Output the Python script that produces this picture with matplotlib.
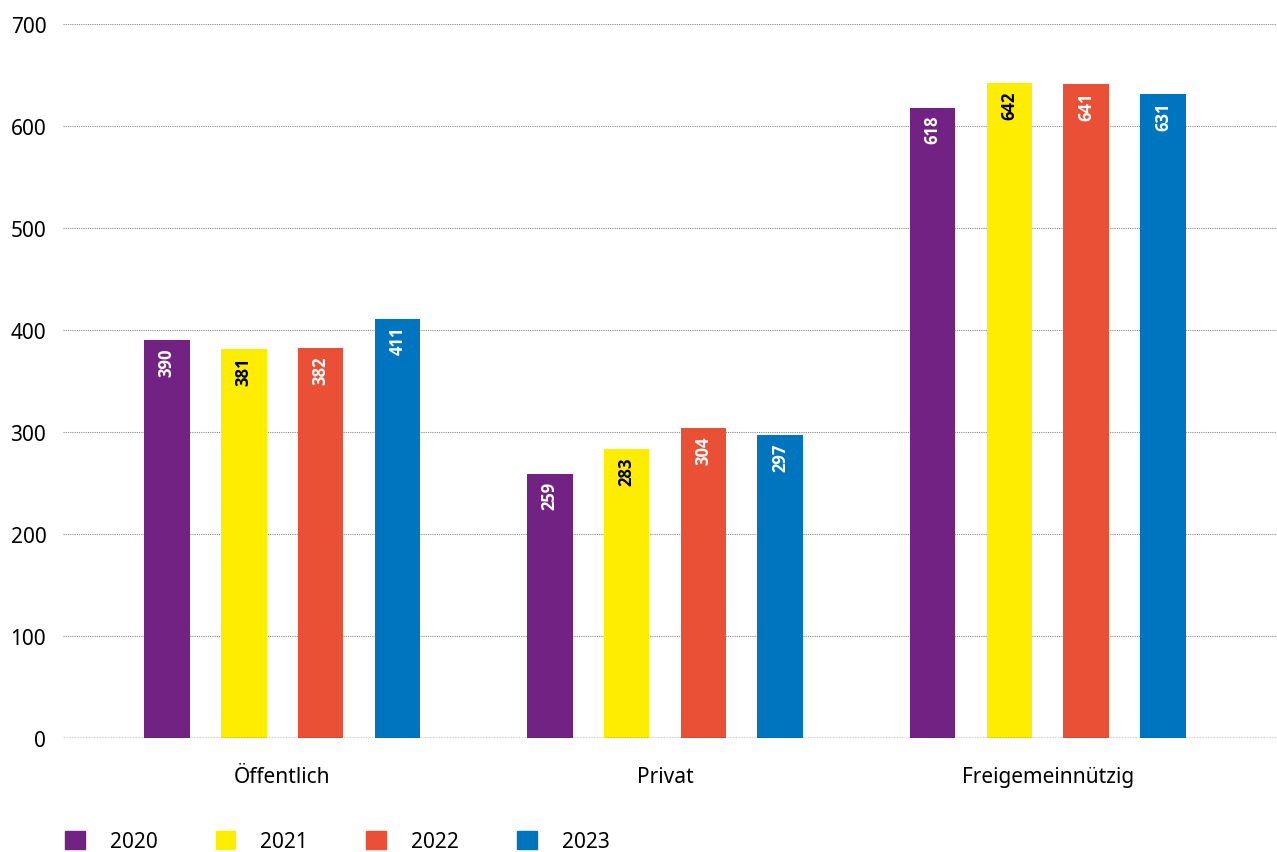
import numpy as np
import matplotlib.pyplot as plt
from matplotlib.patches import Patch

plt.rcParams['font.family'] = ['Noto Sans', 'DejaVu Sans']

kategorien = ["Öffentlich", "Privat", "Freigemeinnützig"]
jahre = ["2020", "2021", "2022", "2023"]
werte_2020 = [390, 259, 618]
werte_2021 = [381, 283, 642]
werte_2022 = [382, 304, 641]
werte_2023 = [411, 297, 631]
farben = ["#722282", "#FFED00", "#E95036", "#0075BF"]
textfarben = ["white", "black", "white", "white"]

serien = [werte_2020, werte_2021, werte_2022, werte_2023]

fig = plt.figure(figsize=(12.77, 8.53), dpi=100)
ax = fig.add_axes([0.0493, 0.1337, 0.9507, 0.837])

x = np.arange(len(kategorien))
breite = 0.12
abstand = 0.201

for i, werte in enumerate(serien):
    pos = x + (i - 1.5) * abstand
    ax.bar(pos, werte, width=breite, color=farben[i], zorder=3)
    for p, w in zip(pos, werte):
        ax.text(p, w - 7, str(w), rotation=90, ha="center", va="top",
                color=textfarben[i], fontsize=12, fontweight="bold",
                family=["Open Sans", "DejaVu Sans"], zorder=4)

ax.set_xlim(-0.572, 2.598)
ax.set_ylim(0, 700)
ax.set_yticks(range(0, 701, 100))
ax.set_xticks(x)
ax.set_xticklabels(kategorien, fontsize=15)
ax.tick_params(axis="y", length=0, labelsize=15, pad=12)
ax.tick_params(axis="x", length=0, pad=20)
ax.grid(axis="y", linestyle=(0, (1, 1)), color="#888888", linewidth=0.8, zorder=0)
ax.axhline(0, linestyle=(0, (1, 1)), color="#222222", linewidth=1.0, zorder=5)
for s in ax.spines.values():
    s.set_visible(False)

handles = [Patch(color=c) for c in farben]
fig.legend(handles, jahre, loc="lower left", bbox_to_anchor=(0.036, -0.022),
           ncol=4, frameon=False, fontsize=15, handlelength=0.95, handleheight=0.95,
           handletextpad=1.2, columnspacing=2.8)

fig.savefig("out.png", dpi=100)
